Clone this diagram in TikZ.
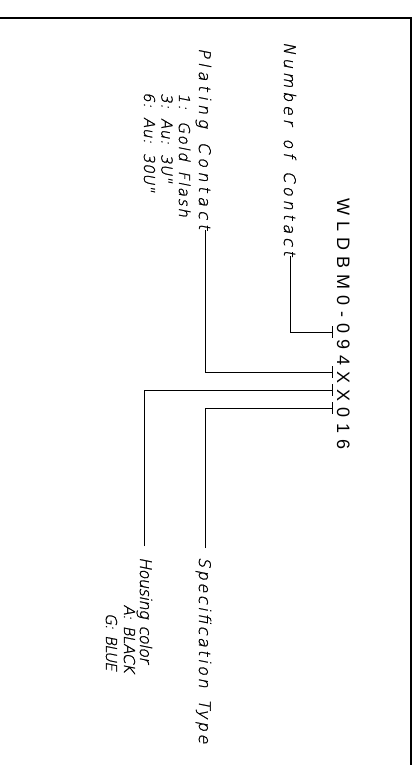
\documentclass[tikz,border=0pt]{standalone}
\usepackage{fontspec}
\setmainfont{Liberation Sans}
\newfontfamily\codefont{Liberation Sans}[LetterSpace=33.3]
\newfontfamily\lblfont{DejaVu Sans ExtraLight}[FakeSlant=0.2,FakeBold=1.4,WordSpace=1.5]
\usetikzlibrary{arrows.meta}
\begin{document}
\begin{tikzpicture}[x=1pt,y=-1pt,
  lead/.style={line width=0.8pt,-{Bar[width=12pt,line width=0.8pt]}},
  lbl/.style={rotate=-90,anchor=base west,inner sep=0pt,
    font=\fontsize{16pt}{18pt}\lblfont\addfontfeatures{LetterSpace=#1}},
  lbl/.default=0,
  sub/.style={rotate=-90,anchor=base west,inner sep=0pt,
    font=\fontsize{15pt}{17pt}\lblfont\addfontfeatures{LetterSpace=#1}},
  sub/.default=0,
  codetext/.style={rotate=-90,anchor=base west,inner sep=0pt,font=\fontsize{18pt}{20pt}\codefont}]
\useasboundingbox (0,0) rectangle (414,765);
\draw[line width=1.2pt] (-5,18) rectangle (411,775);

\node[codetext] (code) at (337,198.5) {WLDBM0-094XX016};

\node[lbl=23.6] (noc) at (284,42) {Number of Contact};
\node[lbl=26.5] (plc) at (199,48) {Plating Contact};
\node[sub=11.5] (p1) at (179,93) {1: Gold Flash};
\node[sub=4] (p3) at (161.5,93) {3: Au: 3U"};
\node[sub=4] (p6) at (144,92) {6: Au: 30U"};
\node[lbl=-3] (hc) at (140,557) {Housing color};
\node[sub=-3,anchor=base east] (ha) at (124,673) {A: BLACK};
\node[sub=-5,anchor=base east] (hg) at (106,671) {G: BLUE};
\node[lbl=15.8] (spec) at (199,557) {Specification Type};

\coordinate (t1) at (333,332);
\coordinate (t2) at (333,372);
\coordinate (t3) at (333,390);
\coordinate (t4) at (333,408);
\coordinate (xnoc) at (290,0);
\coordinate (xplc) at (205,0);
\coordinate (xhc) at (144,0);
\coordinate (xspec) at (205,0);

\draw[lead] (noc.east -| xnoc) |- (t1);
\draw[lead] (plc.east -| xplc) |- (t2);
\draw[lead,shorten <=11pt] (hc.west -| xhc) |- (t3);
\draw[lead,shorten <=9pt] (spec.west -| xspec) |- (t4);
\end{tikzpicture}
\end{document}
